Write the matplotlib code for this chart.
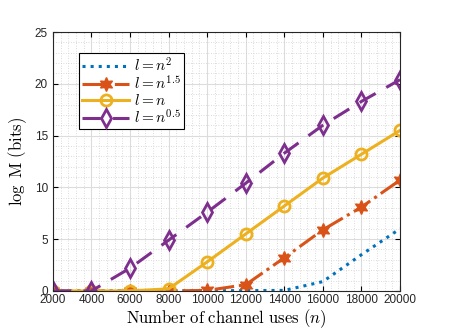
import numpy as np
import matplotlib
matplotlib.use('Agg')
import matplotlib.pyplot as plt
from matplotlib.ticker import AutoMinorLocator

plt.rcParams['mathtext.fontset'] = 'cm'
plt.rcParams['font.family'] = 'Liberation Sans'

# channel uses
n_vals = [2000, 4000, 6000, 8000, 10000, 12000, 14000, 16000, 18000, 20000]

# log M (bits) for each scaling law
m_n2 = [0, 0, 0, 0, 0.02, 0.03, 0.05, 0.9, 3.5, 6.0]
m_n15 = [0, 0, 0, 0, 0.05, 0.6, 3.2, 5.9, 8.1, 10.7]
m_n1 = [0, 0, 0, 0.2, 2.8, 5.5, 8.2, 10.9, 13.2, 15.5]
m_n05 = [0, 0, 2.2, 4.9, 7.6, 10.4, 13.3, 16.0, 18.3, 20.4]

labels = [r'$l = n^2$', r'$l = n^{1.5}$', r'$l = n$', r'$l = n^{0.5}$']
colors = ['#0072BD', '#D95319', '#EDB120', '#7E2F8E']

fig = plt.figure(figsize=(4.52, 3.34), dpi=100)
ax = fig.add_axes([0.117, 0.129, 0.768, 0.775])

ax.plot(n_vals, m_n2, ':', color=colors[0], lw=2.2, label=labels[0])
ax.plot(n_vals, m_n15, '-.', color=colors[1], lw=2.2, marker=(6, 1, 0),
        markersize=10, markerfacecolor=colors[1], label=labels[1])
ax.plot(n_vals, m_n1, '-', color=colors[2], lw=2.2, marker='o',
        markersize=8, markerfacecolor='none', markeredgewidth=2, label=labels[2])
ax.plot(n_vals, m_n05, '--', color=colors[3], lw=2.2, marker='d', dashes=(6, 4),
        markersize=9, markerfacecolor='none', markeredgewidth=2, label=labels[3])

ax.set_xlim(2000, 20000)
ax.set_ylim(0, 25)
ax.set_xticks(n_vals)
ax.set_yticks([0, 5, 10, 15, 20, 25])
ax.xaxis.set_minor_locator(AutoMinorLocator(5))
ax.yaxis.set_minor_locator(AutoMinorLocator(5))
ax.tick_params(which='both', direction='in', labelsize=8.5, length=3.5,
               labelcolor='#262626', width=0.8)
ax.tick_params(which='minor', length=0)
ax.tick_params(axis='x', pad=2)
ax.tick_params(top=True, right=True, which='major')

ax.grid(True, which='major', color='#dcdcdc', lw=0.8)
ax.grid(True, which='minor', color='#d0d0d0', lw=0.6, ls=(0, (1, 2)))
ax.set_axisbelow(True)
for s in ax.spines.values():
    s.set_linewidth(0.8)
    s.set_color('#262626')

ax.set_xlabel(r'$\mathrm{Number\ of\ channel\ uses}\ (n)$', fontsize=12, labelpad=1)
ax.set_ylabel(r'$\log\ \mathrm{M}\ \mathrm{(bits)}$', fontsize=12, labelpad=4)

leg = ax.legend(loc='upper left', bbox_to_anchor=(0.075, 0.919), fontsize=11,
                fancybox=False, edgecolor='black', framealpha=1,
                handlelength=3.1, borderpad=0.2, labelspacing=0.02,
                handletextpad=0.3, borderaxespad=0.0)
leg.get_frame().set_linewidth(0.8)

fig.savefig('out.png', dpi=100)
